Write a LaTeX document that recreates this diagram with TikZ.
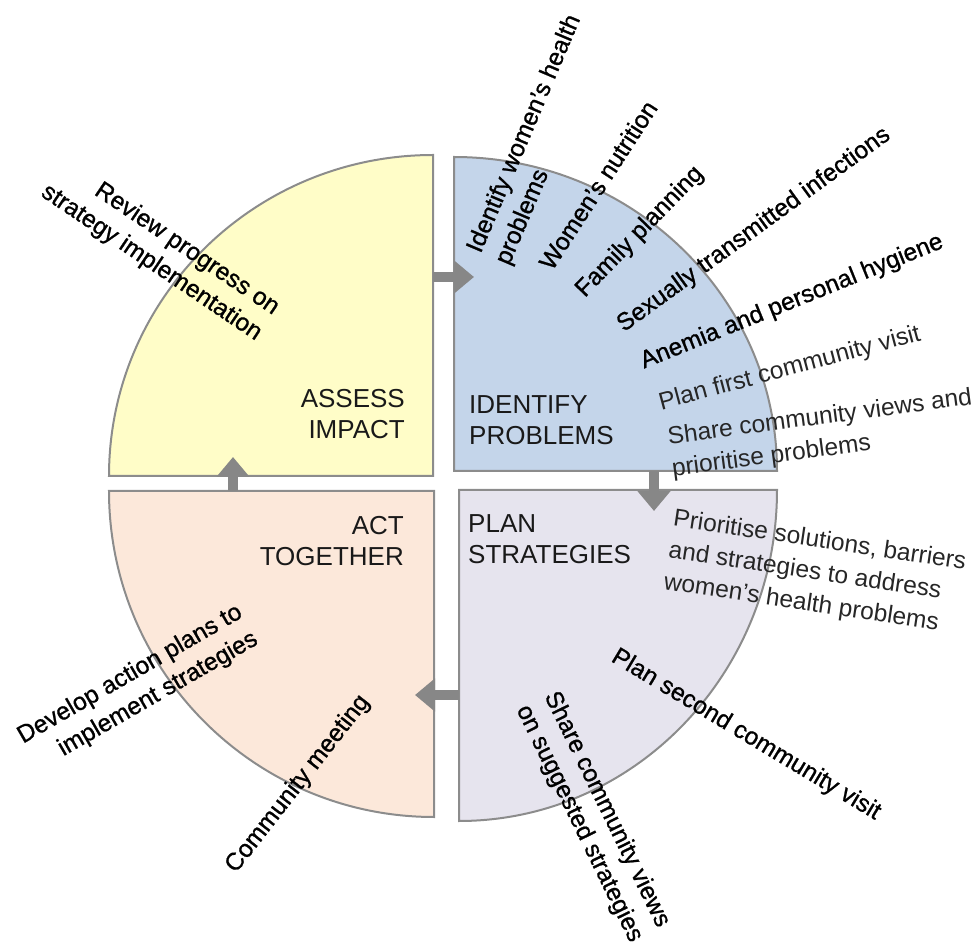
\documentclass[tikz,border=0pt]{standalone}
\usepackage{fontspec}
\setmainfont{Liberation Sans}
\newfontfamily\heavyfont[FakeBold=0.9]{Liberation Sans}
\usetikzlibrary{arrows.meta}

\definecolor{assessfill}{RGB}{255,253,200}
\definecolor{identifyfill}{RGB}{196,213,234}
\definecolor{actfill}{RGB}{252,232,218}
\definecolor{planfill}{RGB}{230,228,238}
\definecolor{rimgray}{RGB}{140,140,140}
\definecolor{flowgray}{RGB}{135,135,135}

\begin{document}
\begin{tikzpicture}[x=1pt,y=-1pt,>={Triangle[width=32pt,length=20pt]},
                    line join=miter]
  \tikzstyle{quadrant}=[draw=rimgray,line width=2pt]
  \tikzstyle{flow}=[->,draw=flowgray,line width=10pt]
  \tikzstyle{phase}=[inner sep=0pt,text=black!90,font=\fontsize{26}{31}\selectfont]
  \tikzstyle{topic}=[inner sep=0pt,font=\heavyfont\fontsize{24.5}{31}\selectfont]
  \tikzstyle{note}=[inner sep=0pt,text=black!85,font=\fontsize{24.5}{32}\selectfont]

  \useasboundingbox (0,0) rectangle (978,949);

  % the four quarters
  \path[quadrant,fill=assessfill] (433,476) -- (433,155)
    arc[start angle=-90,end angle=-180,x radius=324,y radius=321] -- cycle;
  \path[quadrant,fill=identifyfill] (454,471) -- (454,157)
    arc[start angle=-90,end angle=0,x radius=323,y radius=314] -- cycle;
  \path[quadrant,fill=actfill] (434,491) -- (109,491)
    arc[start angle=180,end angle=90,x radius=325,y radius=326] -- cycle;
  \path[quadrant,fill=planfill] (459,490) -- (777,490)
    arc[start angle=0,end angle=90,x radius=318,y radius=331] -- cycle;

  \coordinate (assessout)   at (433,277);
  \coordinate (identifyin)  at (474,277);
  \coordinate (identifyout) at (654,471);
  \coordinate (planin)      at (654,511);
  \coordinate (planout)     at (459,695);
  \coordinate (actin)       at (415,695);
  \coordinate (actout)      at (233,491);
  \coordinate (assessin)    at (233,457);

  \draw[flow] (assessout)   -- (identifyin);
  \draw[flow] (identifyout) -- (planin);
  \draw[flow] (planout)     -- (actin);
  \draw[flow] (actout)      -- (assessin);

  % phase names
  \node[phase,anchor=east,align=right] (assess)   at (405,414) {ASSESS\\IMPACT};
  \node[phase,anchor=west,align=left]  (identify) at (469,420) {IDENTIFY\\PROBLEMS};
  \node[phase,anchor=east,align=right] (act)      at (404,541) {ACT\\TOGETHER};
  \node[phase,anchor=west,align=left]  (plan)     at (468,539) {PLAN\\STRATEGIES};

  % steps round the circle
  \node[topic,rotate=-34,align=right] (review)    at (160,250) {Review progress on\\strategy implementation};
  \node[topic,rotate=67,align=left]   (problems)  at (539,140) {Identify women’s health\\problems};
  \node[topic,rotate=57]              (nutrition) at (598,185) {Women’s nutrition};
  \node[topic,rotate=46]              (family)    at (640,232) {Family planning};
  \node[topic,rotate=36]              (sti)       at (754,230) {Sexually transmitted infections};
  \node[topic,rotate=22]              (anemia)    at (792,302) {Anemia and personal hygiene};
  \node[note,rotate=15]               (firstvisit) at (790,369) {Plan first community visit};
  \node[note,rotate=7.5,align=left]   (shareprob) at (822,434) {Share community views and\\prioritise problems};
  \node[note,rotate=-8.5,align=left]  (solutions) at (815,573) {Prioritise solutions, barriers\\and strategies to address\\women’s health problems};
  \node[topic,rotate=-31]             (secondvisit) at (746,735) {Plan second community visit};
  \node[topic,rotate=-64,align=left]  (sharestrat) at (593,817) {Share community views\\on suggested strategies};
  \node[topic,rotate=52]              (meeting)   at (298,784) {Community meeting};
  \node[topic,rotate=30,align=right]  (develop)   at (138,688) {Develop action plans to\\implement strategies};
\end{tikzpicture}
\end{document}
